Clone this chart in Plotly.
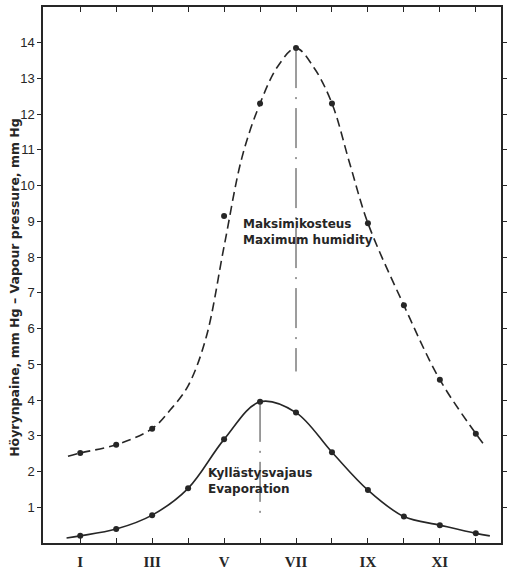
import plotly.graph_objects as go

# ---- data ----
months = [1, 2, 3, 4, 5, 6, 7, 8, 9, 10, 11, 12]
month_labels = ["I", "", "III", "", "V", "", "VII", "", "IX", "", "XI", ""]

# Maximum humidity (measured points; no point in April)
maxhum_months = [1, 2, 3, 5, 6, 7, 8, 9, 10, 11, 12]
maxhum_values = [2.52, 2.75, 3.2, 9.15, 12.3, 13.85, 12.3, 8.95, 6.65, 4.57, 3.06]

# Smoothed dashed curve as drawn in the figure
maxhum_curve_months = [0.66, 1, 2, 3, 3.5, 4, 4.5, 5, 5.5, 6, 6.5, 7, 7.5, 8, 8.5,
                       9, 10, 11, 12, 12.25]
maxhum_curve_values = [2.43, 2.52, 2.75, 3.2, 3.72, 4.4, 5.75, 8.3, 10.8, 12.3, 13.35,
                       13.85, 13.3, 12.3, 10.6, 8.95, 6.65, 4.57, 3.06, 2.72]

# Evaporation (saturation deficit)
evap_values = [0.2, 0.39, 0.78, 1.53, 2.9, 3.95, 3.65, 2.54, 1.48, 0.74, 0.5, 0.27]
evap_curve_start = (0.62, 0.14)
evap_curve_end = (12.39, 0.2)

# vertical dash-dot guide lines at the maxima
vline_months = [6, 7]
vline_top = [3.95, 13.85]
vline_bottom = [0.7, 4.8]

y_ticks = list(range(1, 15))

ink = "#262626"
text_font = dict(family="DejaVu Sans", size=12, color=ink, weight="bold")

fig = go.Figure()

# dashed curve
fig.add_trace(go.Scatter(
    x=maxhum_curve_months, y=maxhum_curve_values, mode="lines",
    line=dict(color=ink, width=1.6, dash="9px,5px", shape="spline", smoothing=1.0),
    hoverinfo="skip", showlegend=False))
fig.add_trace(go.Scatter(
    x=maxhum_months, y=maxhum_values, mode="markers",
    marker=dict(color=ink, size=6), showlegend=False))

# solid evaporation curve
fig.add_trace(go.Scatter(
    x=[evap_curve_start[0]] + months + [evap_curve_end[0]],
    y=[evap_curve_start[1]] + evap_values + [evap_curve_end[1]],
    mode="lines", line=dict(color=ink, width=1.6, shape="spline", smoothing=1.0),
    hoverinfo="skip", showlegend=False))
fig.add_trace(go.Scatter(
    x=months, y=evap_values, mode="markers",
    marker=dict(color=ink, size=6), showlegend=False))

# vertical guides
for m, top, bot in zip(vline_months, vline_top, vline_bottom):
    fig.add_trace(go.Scatter(
        x=[m, m], y=[top, bot], mode="lines",
        line=dict(color="#3a3a3a", width=1, dash="40px,9px,2px,9px"),
        hoverinfo="skip", showlegend=False))

fig.add_annotation(x=5.48, y=8.7, xref="x", yref="y", xanchor="left", yanchor="middle",
                   text="Maksimikosteus<br>Maximum humidity", showarrow=False,
                   align="left", font=text_font)
fig.add_annotation(x=4.49, y=1.73, xref="x", yref="y", xanchor="left", yanchor="middle",
                   text="Kyllästysvajaus<br>Evaporation", showarrow=False,
                   align="left", font=text_font)
fig.add_annotation(x=10.13, y=-0.84, xref="x", yref="y", xanchor="center", yanchor="middle",
                   text="Kuukausi – Month", showarrow=False, font=text_font)
fig.add_annotation(x=-0.064, y=7.16, xref="paper", yref="y", xanchor="center", yanchor="middle",
                   text="Höyrynpaine, mm Hg – Vapour pressure, mm Hg", textangle=-90,
                   showarrow=False, font=dict(family="DejaVu Sans", size=12.5, color=ink, weight="bold"))

fig.update_xaxes(range=[-0.035, 12.70], tickvals=months, ticktext=month_labels,
                 ticks="inside", ticklen=5, tickwidth=1.3, tickcolor=ink,
                 showline=True, linecolor=ink, linewidth=1.5, mirror="ticks",
                 showgrid=False, zeroline=False, ticklabelstandoff=4,
                 tickfont=dict(family="Liberation Serif", size=15, color=ink, weight="bold"))
fig.update_yaxes(range=[0, 15], tickvals=y_ticks,
                 ticks="outside", ticklen=4, tickwidth=1.3, tickcolor=ink,
                 showline=True, linecolor=ink, linewidth=1.5, mirror="ticks",
                 showgrid=False, zeroline=False,
                 tickfont=dict(family="Liberation Sans", size=13, color=ink))

fig.update_layout(width=507, height=583,
                  margin=dict(l=43, r=6, t=7, b=40, autoexpand=False),
                  paper_bgcolor="white", plot_bgcolor="white")

fig.write_html("out.html", config={"displayModeBar": False},
               post_script="document.body.style.margin='0px';")
